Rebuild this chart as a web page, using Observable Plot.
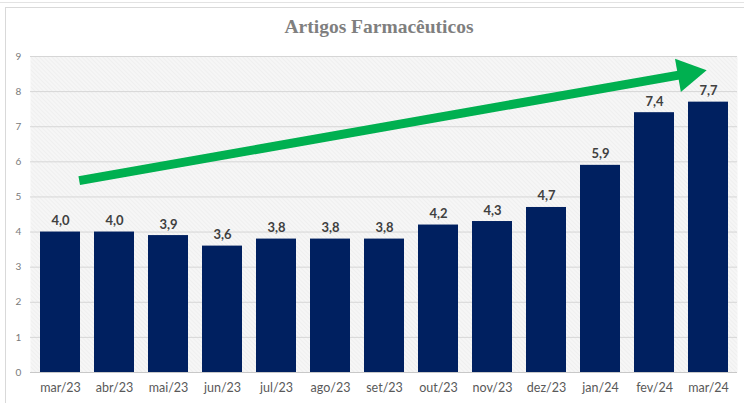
<!DOCTYPE html>
<html>
<head>
<meta charset="utf-8">
<script src="https://cdn.jsdelivr.net/npm/d3@7"></script>
<script src="https://cdn.jsdelivr.net/npm/@observablehq/plot@0.6"></script>
<style>
  html, body { margin: 0; padding: 0; background: #fff; width: 744px; height: 403px; overflow: hidden; }
  #top-line { position: absolute; left: 0; top: 2px; width: 744px; height: 0; border-top: 1px solid #e3e3e3; }
  #frame { position: absolute; left: 5px; top: 7px; width: 760px; height: 420px; border-left: 1px solid #d9d9d9; border-top: 1px solid #d9d9d9; }
  #title { position: absolute; left: 5px; top: 16px; width: 748px; text-align: center;
           font-family: "Liberation Serif", serif; font-weight: bold; font-size: 19.5px; color: #7f7f7f; }
  #chart { position: absolute; left: 0; top: 44px; }
</style>
</head>
<body>
<div id="top-line"></div>
<div id="frame"></div>
<div id="title">Artigos Farmacêuticos</div>
<div id="chart"></div>
<script>
const months = ["mar/23","abr/23","mai/23","jun/23","jul/23","ago/23","set/23","out/23","nov/23","dez/23","jan/24","fev/24","mar/24"];
const values = [4.0, 4.0, 3.9, 3.6, 3.8, 3.8, 3.8, 4.2, 4.3, 4.7, 5.9, 7.4, 7.7];
const yTicks = [0, 1, 2, 3, 4, 5, 6, 7, 8, 9];
// trend arrow (start at first month, end at last month)
const trendStart = {x: "mar/23", y: 5.37};
const trendEnd = {x: "mar/24", y: 8.62};
const trendHead = {x: "mar/24", y: 8.51};

const data = months.map((m, i) => ({month: m, value: values[i]}));
const fmt = v => v.toFixed(1).replace(".", ",");

const svg = Plot.plot({
  width: 744,
  height: 359,
  marginTop: 12,
  marginBottom: 31,
  marginLeft: 30,
  marginRight: 7,
  style: {fontFamily: "Lato, 'Open Sans', sans-serif", background: "transparent", overflow: "visible"},
  x: {domain: months, paddingInner: 0.263, paddingOuter: 0.13, label: null},
  y: {domain: [0, 9], label: null},
  marks: [
    Plot.frame({fill: "url(#hatch)", stroke: null}),
    Plot.gridY(yTicks.filter(d => d > 0), {stroke: "#d6d6d6", strokeOpacity: 1, strokeWidth: 1}),
    Plot.ruleY([0], {stroke: "#c8c8c8"}),
    Plot.axisY(yTicks, {tickSize: 0, tickPadding: 10, fontSize: 10, fill: "#7a7a7a", label: null, textAnchor: "middle", dx: -2}),
    Plot.axisX({tickSize: 0, tickPadding: 11, fontSize: 12.5, fill: "#595959", label: null}),
    Plot.barY(data, {x: "month", y: "value", fill: "#002060"}),
    Plot.text(data, {x: "month", y: "value", text: d => fmt(d.value), lineAnchor: "bottom", dy: -7,
                     fontSize: 13, fontWeight: "bold", fill: "#404040"}),
    Plot.arrow([{x1: trendStart.x, y1: trendStart.y, x2: trendEnd.x, y2: trendEnd.y}], {
      x1: "x1", y1: "y1", x2: "x2", y2: "y2",
      stroke: "#00b050", strokeWidth: 9, headLength: 0, insetStart: 19, insetEnd: 20,
      strokeLinecap: "butt"
    }),
    Plot.dot([trendHead], {x: "x", y: "y", symbol: "triangle", r: 12.5, fill: "#00b050", stroke: null,
                           rotate: 80, dx: -21})
  ]
});

// fine hatch pattern for the plot background
const defs = d3.select(svg).insert("defs", ":first-child");
const pat = defs.append("pattern").attr("id", "hatch").attr("patternUnits", "userSpaceOnUse")
  .attr("width", 3).attr("height", 3).attr("patternTransform", "rotate(-45)");
pat.append("rect").attr("width", 3).attr("height", 3).attr("fill", "#f6f6f6");
pat.append("line").attr("x1", 0).attr("y1", 0).attr("x2", 0).attr("y2", 3)
  .attr("stroke", "#e9e9e9").attr("stroke-width", 1);

document.getElementById("chart").appendChild(svg);
</script>
</body>
</html>
